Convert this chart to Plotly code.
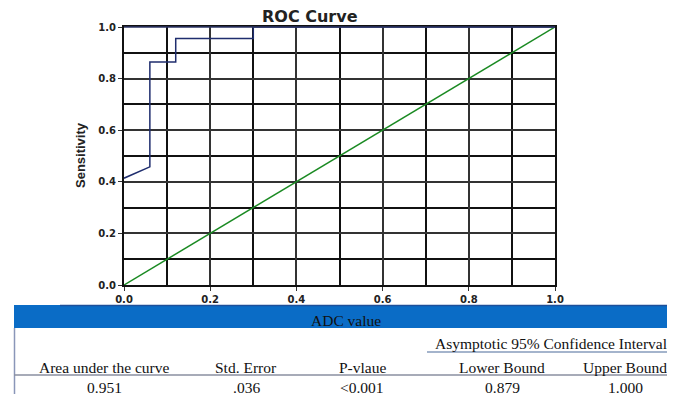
import plotly.graph_objects as go

# ---- data ----
fpr = [0.0, 0.06, 0.06, 0.12, 0.12, 0.30, 0.30, 1.0]
tpr = [0.414, 0.458, 0.864, 0.864, 0.955, 0.955, 1.0, 1.0]
ref_x = [0.0, 1.0]
ref_y = [0.0, 1.0]
tick_vals = [0.0, 0.2, 0.4, 0.6, 0.8, 1.0]

table_title = "ADC value"
ci_title = "Asymptotic 95% Confidence Interval"
col_headers = ["Area under the curve", "Std. Error", "P-vlaue", "Lower Bound", "Upper Bound"]
col_values = ["0.951", ".036", "<0.001", "0.879", "1.000"]
col_centers_px = [104, 246, 362, 502, 625]

OFF = 8  # page body margin
W, H = 675 - OFF, 394 - OFF
L, R, T, B = 124 - OFF, 555 - OFF, 27 - OFF, 285 - OFF  # plot area in figure pixels


def px(x):
    return (x - OFF - L) / (R - L)


def py(y):
    return (B - (y - OFF)) / (B - T)


fig = go.Figure()
fig.add_trace(go.Scatter(x=ref_x, y=ref_y, mode="lines",
                         line=dict(color="#1a8a22", width=1.5), hoverinfo="skip"))
fig.add_trace(go.Scatter(x=fpr, y=tpr, mode="lines",
                         line=dict(color="#1f2d6e", width=1.5), hoverinfo="skip"))

axis_common = dict(
    range=[0, 1], tickvals=tick_vals, tickformat=".1f",
    showgrid=True, gridcolor="#333333", gridwidth=1.8,
    minor=dict(dtick=0.1, showgrid=True, gridcolor="#111111", gridwidth=1.8, ticks=""),
    showline=True, linecolor="#111111", linewidth=2, layer="above traces",
    ticks="outside", ticklen=4, tickwidth=1, tickcolor="#333333",
    tickfont=dict(family="DejaVu Sans", size=10, color="#222222", weight="bold"),
    zeroline=False, fixedrange=True,
)
fig.update_xaxes(**axis_common, mirror=True)
fig.update_yaxes(**axis_common, mirror=True)

shapes = []
# top border navy
shapes.append(dict(type="line", xref="paper", yref="paper", x0=0, x1=1, y0=1, y1=1,
                   line=dict(color="#2b3566", width=1.5)))
# table header band
shapes.append(dict(type="rect", xref="paper", yref="paper",
                   x0=px(14), x1=px(676), y0=py(328), y1=py(305),
                   fillcolor="#0a6cc6", line=dict(width=0), layer="above"))
shapes.append(dict(type="line", xref="paper", yref="paper",
                   x0=px(60), x1=px(676), y0=py(305.5), y1=py(305.5),
                   line=dict(color="#1d4f9a", width=1.5)))
# left border of table
shapes.append(dict(type="line", xref="paper", yref="paper",
                   x0=px(14.5), x1=px(14.5), y0=py(328), y1=py(395),
                   line=dict(color="#8a96b8", width=1.5)))
# underline of CI header
shapes.append(dict(type="line", xref="paper", yref="paper",
                   x0=px(427), x1=px(676), y0=py(352), y1=py(352),
                   line=dict(color="#4a6a9a", width=1.2)))
# line under column headers
shapes.append(dict(type="line", xref="paper", yref="paper",
                   x0=px(14), x1=px(676), y0=py(375), y1=py(375),
                   line=dict(color="#8a8fa0", width=1.5)))

serif = dict(family="Liberation Serif, Times New Roman", size=15.5, color="#111111")
annotations = []
annotations.append(dict(text="ROC Curve", xref="paper", yref="paper", x=px(310), y=py(17),
                        showarrow=False, xanchor="center", yanchor="middle",
                        font=dict(family="DejaVu Sans", size=16, color="#222222", weight="bold")))
annotations.append(dict(text="Sensitivity", xref="paper", yref="paper", x=px(80), y=py(155),
                        textangle=-90, showarrow=False, xanchor="center", yanchor="middle",
                        font=dict(family="Liberation Sans Narrow, Arial Narrow, Liberation Sans",
                                  size=13, color="#222222", weight="bold")))
annotations.append(dict(text=table_title, xref="paper", yref="paper", x=px(346), y=py(320),
                        showarrow=False, font=serif, xanchor="center", yanchor="middle"))
annotations.append(dict(text=ci_title, xref="paper", yref="paper", x=px(551), y=py(343),
                        showarrow=False, font=serif, xanchor="center", yanchor="middle"))
for cx, h, v in zip(col_centers_px, col_headers, col_values):
    annotations.append(dict(text=h, xref="paper", yref="paper", x=px(cx), y=py(367),
                            showarrow=False, font=serif, xanchor="center", yanchor="middle"))
    annotations.append(dict(text=v, xref="paper", yref="paper", x=px(cx), y=py(387),
                            showarrow=False, font=serif, xanchor="center", yanchor="middle"))

fig.update_layout(
    width=W, height=H,
    margin=dict(l=L, r=W - R, t=T, b=H - B, pad=0),
    paper_bgcolor="white", plot_bgcolor="white",
    showlegend=False,
    shapes=shapes, annotations=annotations,
)

fig.write_html("out.html")
